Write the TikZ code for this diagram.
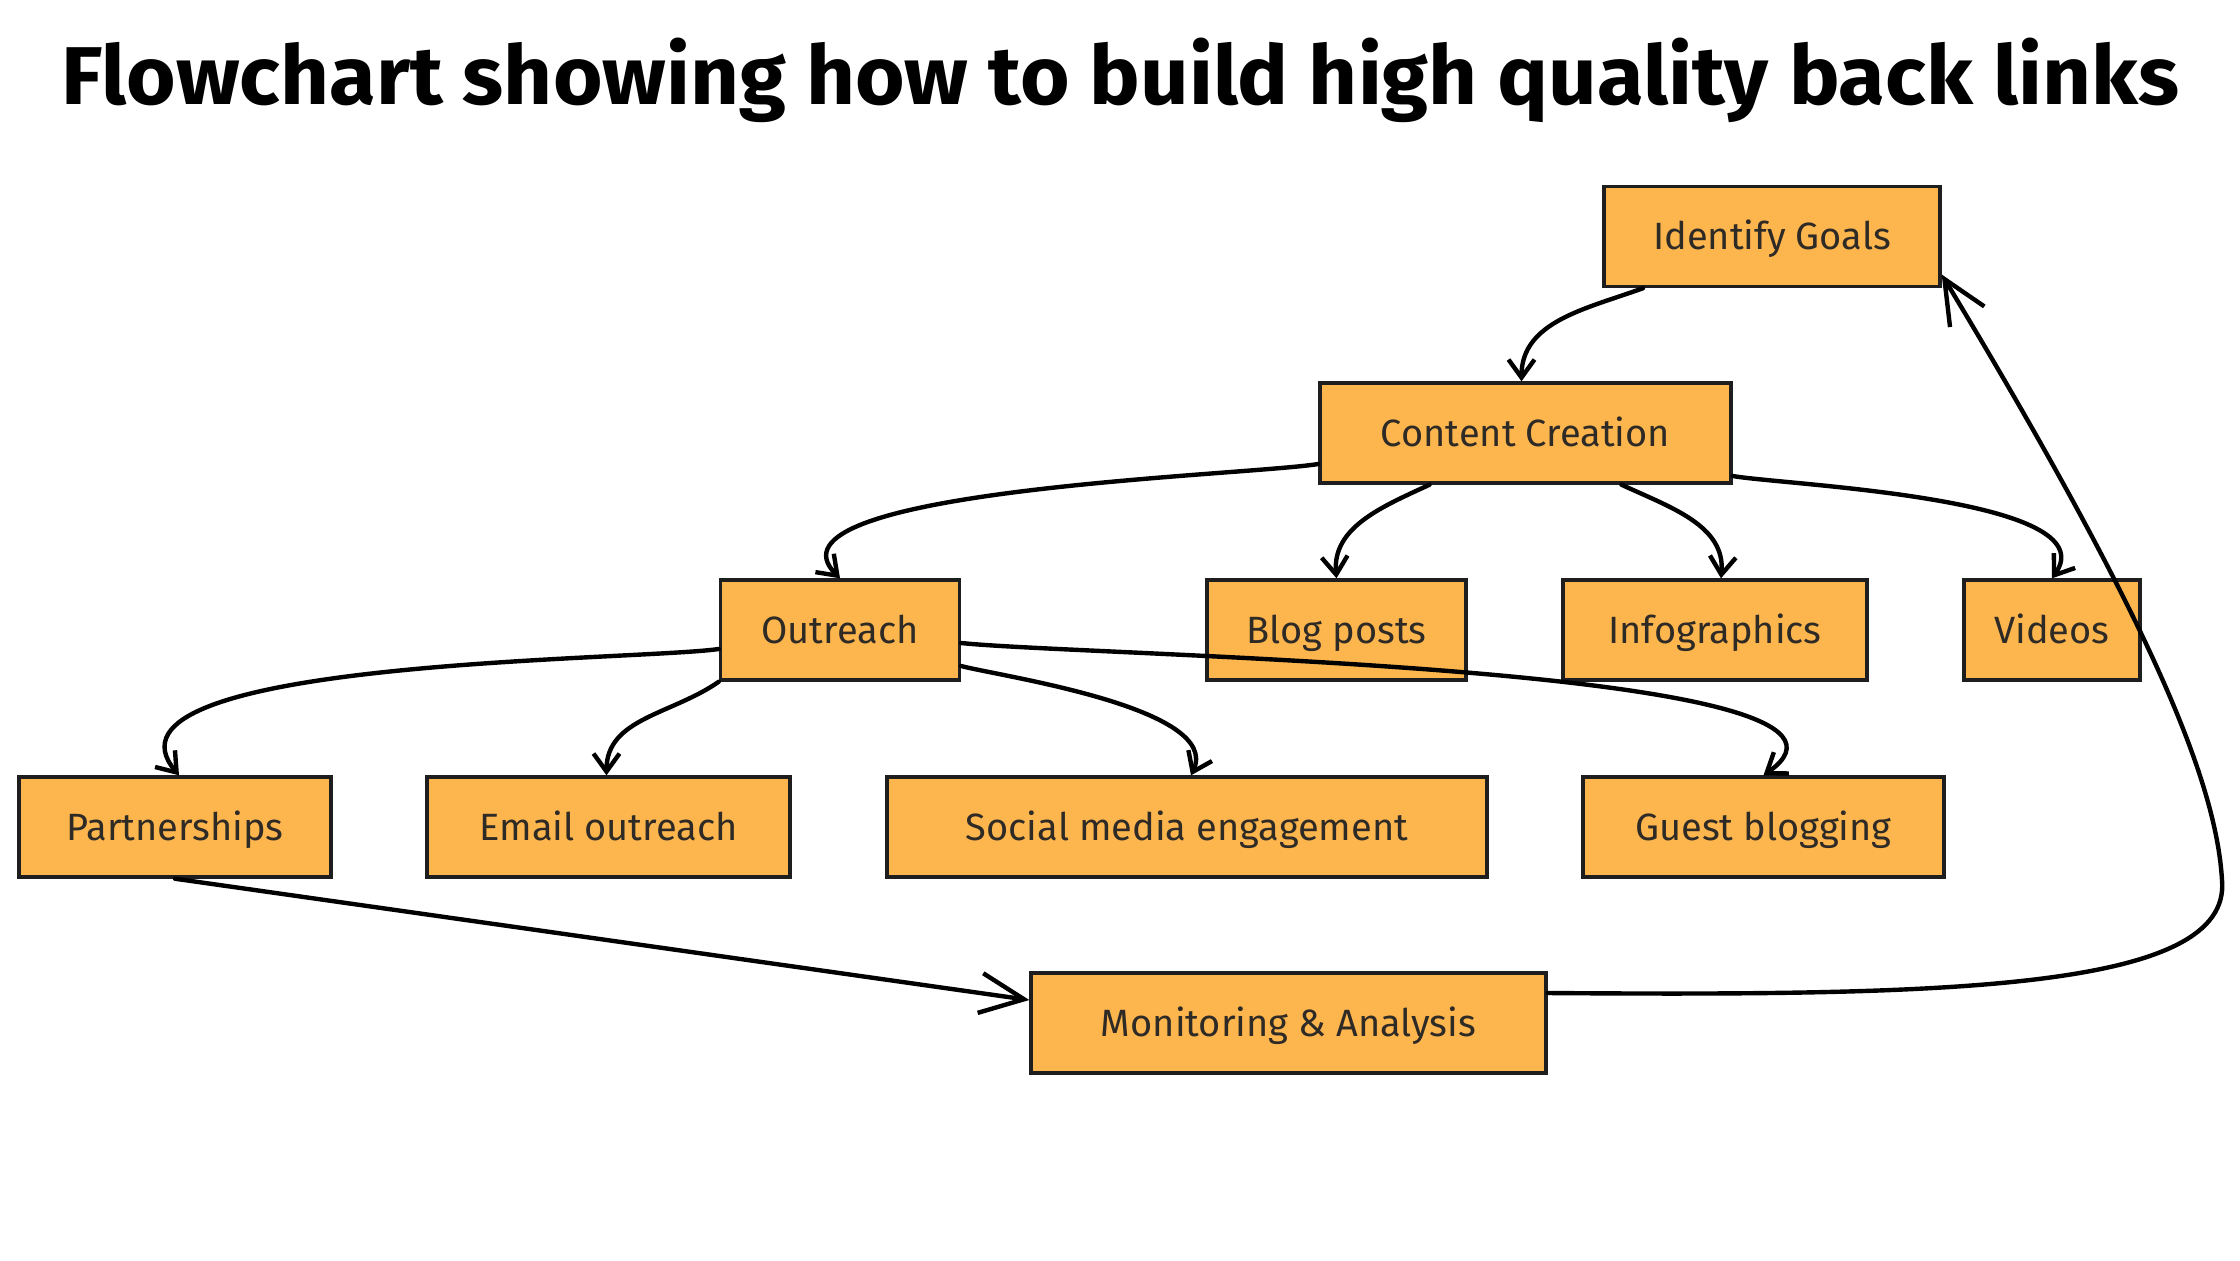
\documentclass[tikz,border=0pt]{standalone}
\usepackage{fontspec}
\usepackage{graphicx}
\usepackage{tikz}
\usetikzlibrary{shapes, arrows.meta}
\usetikzlibrary{positioning}
\newfontfamily\titlefont{Fira Sans}
\newfontfamily\boxfont{Fira Sans}
\definecolor{boxfill}{HTML}{FDB54E}
\definecolor{boxline}{HTML}{1E1E1E}
\definecolor{boxtext}{HTML}{2E2A25}
\tikzstyle{stage} = [rectangle, minimum height = 50, draw = boxline,
  line width = 1.7, fill = boxfill, text = boxtext,
  text height = 16, text depth = 3,
  font = \boxfont\fontsize{19}{22}\selectfont, text centered]
\tikzstyle{link} = [
  ->, >={Straight Barb[length=9pt, width=13pt]},
  line width = 2.2, line cap = round, line join = round
]
\tikzstyle{bigtip} = [>={Straight Barb[length=22pt, width=20pt]}]

\begin{document}
\begin{tikzpicture}[node distance = 0, x = 0.5pt, y = -0.5pt]
      \useasboundingbox (0, 0) rectangle (2240, 1260);
      % title
      \node (title) at (1120, 80)
        {\resizebox{1059pt}{\height}{\titlefont\bfseries\fontsize{41}{48}\selectfont
         Flowchart showing how to build high quality back links}};
      % row 0
      \node [stage, minimum width = 168] (goals) at (1772, 236.5) {Identify Goals};
      % row 1
      \node [stage, minimum width = 205.5, below of = goals, xshift = -123.25, yshift = -98.25] (content) {Content Creation};
      % row 2
      \node [stage, minimum width = 119.5, below of = content, xshift = -342.75, yshift = -98.5] (outreach) {Outreach};
      \node [stage, minimum width = 129.5, right of = outreach, xshift = 248.25] (blog) {Blog posts};
      \node [stage, minimum width = 152, right of = blog, xshift = 189.25] (info) {Infographics};
      \node [stage, minimum width = 88, right of = info, xshift = 168.5] (videos) {Videos};
      % row 3
      \node [stage, minimum width = 156, below of = outreach, xshift = -332.5, yshift = -98.5] (partner) {Partnerships};
      \node [stage, minimum width = 181.5, right of = partner, xshift = 216.75] (email) {Email outreach};
      \node [stage, minimum width = 300, right of = email, xshift = 289.25] (social) {Social media engagement};
      \node [stage, minimum width = 180.5, right of = social, xshift = 288.25] (guest) {Guest blogging};
      % row 4
      \node [stage, minimum width = 257.5, below of = social, xshift = 50.75, yshift = -98] (monitor) {Monitoring \& Analysis};

      \coordinate (sweep) at (2222, 880);

      \draw [link] ([xshift = -64.5]goals.south) to [out = 200, in = 90] ([xshift = -2]content.north);
      \draw [link] ([yshift = -15.5]content.west) to [out = 189, in = 135, out looseness = 0.4, in looseness = 0.65] (outreach.north);
      \draw [link] ([xshift = -48]content.south) to [out = 205, in = 95] (blog.north);
      \draw [link] ([xshift = 48]content.south) to [out = -25, in = 85] ([xshift = 3]info.north);
      \draw [link] ([yshift = -21.5]content.east) to [out = -10, in = 55, out looseness = 0.4, in looseness = 0.75] (videos.north);
      \draw [link] ([yshift = -9.5]outreach.west) to [out = 188, in = 130, out looseness = 0.4, in looseness = 0.7] ([xshift = 2]partner.north);
      \draw [link] (outreach.south west) to [out = 215, in = 90] ([xshift = -1]email.north);
      \draw [link] ([yshift = -18]outreach.east) to [out = -15, in = 65, out looseness = 0.4, in looseness = 0.75] ([xshift = 2]social.north);
      \draw [link] ([yshift = -6.5]outreach.east) to [out = -6, in = 35, out looseness = 0.4, in looseness = 0.6] (guest.north);
      \draw [link, bigtip] (partner.south) -- ([yshift = 11.5]monitor.west);
      \draw [link, bigtip] ([yshift = 15]monitor.east)
        .. controls (1950, 996) and (2232, 990) .. (sweep)
        .. controls (2216, 780) and (2150, 620) .. ([yshift = -19]goals.east);
    \end{tikzpicture}
\end{document}
